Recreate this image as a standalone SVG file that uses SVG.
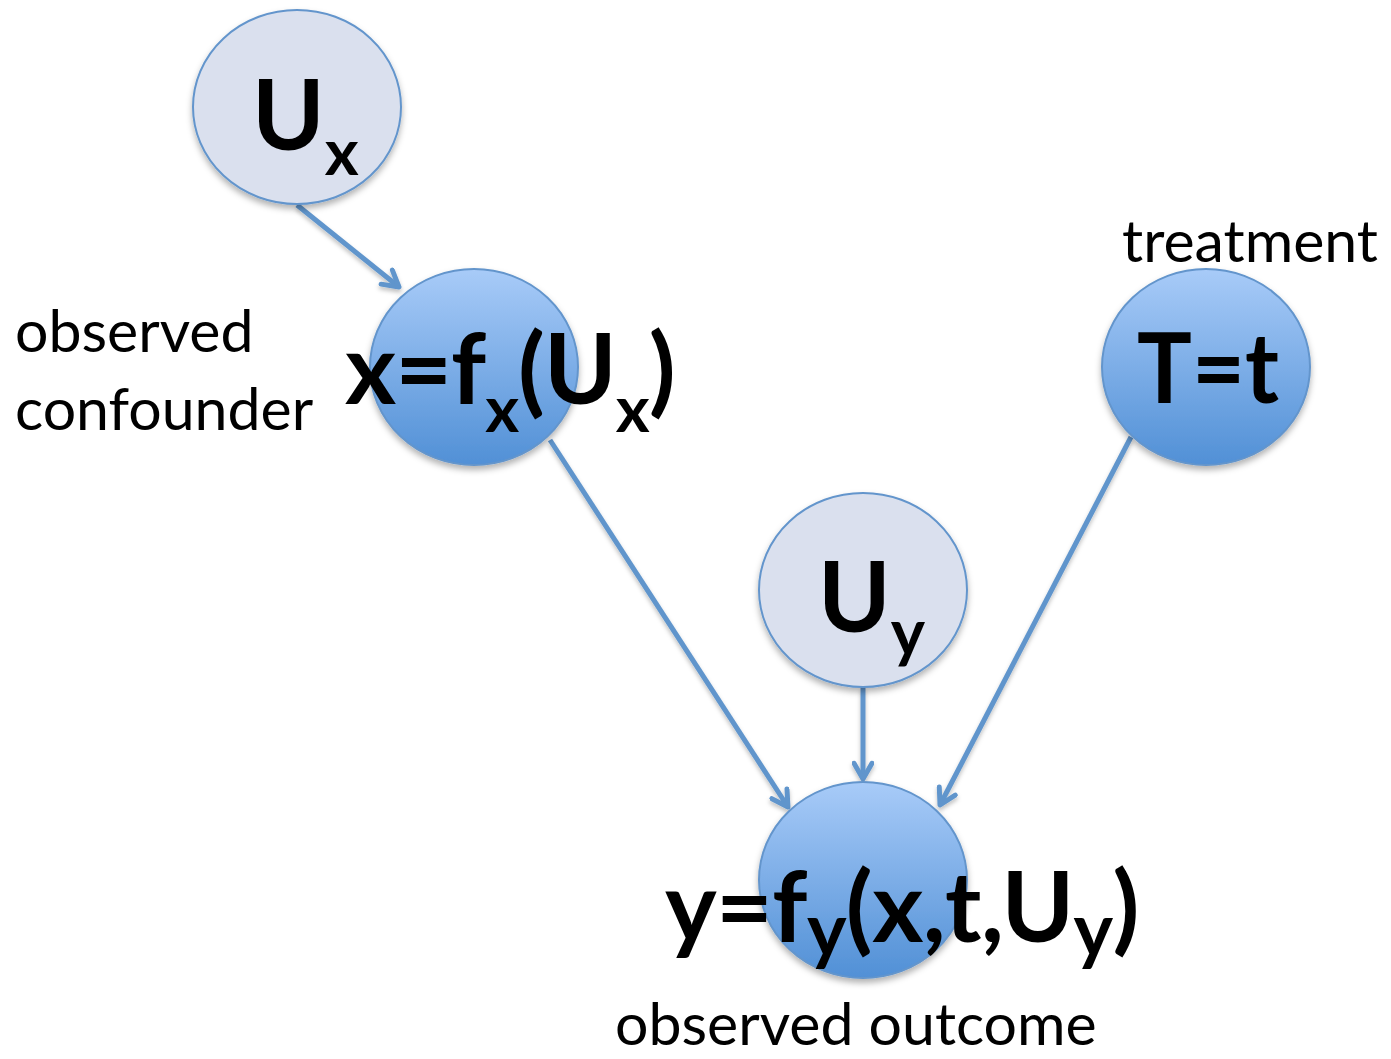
<svg xmlns="http://www.w3.org/2000/svg" width="1391" height="1059" viewBox="0 0 1391 1059">
<style>
.lbl{font-family:Lato,"Open Sans","Liberation Sans",sans-serif;font-size:59px;fill:#000}
.eq{font-family:Lato,"Open Sans","Liberation Sans",sans-serif;font-weight:bold;font-size:98px;fill:#000}
.pale{fill:#dae0ee;stroke:#6395cc;stroke-width:2}
.blue{fill:url(#bg);stroke:#6395cc;stroke-width:2}
.edge{stroke:#6095cc;stroke-width:5;fill:none;marker-end:url(#ah)}
</style>
<defs>
<linearGradient id="bg" x1="0" y1="0" x2="0" y2="1">
<stop offset="0" stop-color="#a8cbf8"/>
<stop offset="1" stop-color="#5190d6"/>
</linearGradient>
<filter id="sh" x="-20%" y="-20%" width="140%" height="150%">
<feDropShadow dx="0" dy="4" stdDeviation="3" flood-color="#000" flood-opacity="0.3"/>
</filter>
<filter id="lsh" x="-10%" y="-10%" width="120%" height="120%">
<feDropShadow dx="0" dy="3" stdDeviation="2" flood-color="#000" flood-opacity="0.25"/>
</filter>
<marker id="ah" viewBox="0 0 10 10" refX="8.5" refY="5" markerWidth="4.5" markerHeight="4.5" markerUnits="strokeWidth" orient="auto">
<path d="M1.5,1 L8.5,5 L1.5,9" fill="none" stroke="#6095cc" stroke-width="2.2" stroke-linecap="round" stroke-linejoin="round"/>
</marker>
</defs>
<g id="connectors" filter="url(#lsh)">
<line class="edge" x1="297" y1="205" x2="399" y2="287"/>
<line class="edge" x1="550" y1="440" x2="788" y2="807"/>
<line class="edge" x1="863" y1="687" x2="863" y2="779"/>
<line class="edge" x1="1131" y1="437" x2="940" y2="805"/>
</g>
<g id="node-Ux">
<ellipse class="pale" filter="url(#sh)" cx="297" cy="107" rx="104" ry="97"/>
<text class="eq" x="252" y="150">U<tspan dy="25" font-size="65">x</tspan></text>
</g>
<g id="node-x">
<ellipse class="blue" filter="url(#sh)" cx="474" cy="367" rx="104" ry="98"/>
<text class="eq" x="345" y="404" letter-spacing="-1">x=f<tspan dy="28" font-size="65">x</tspan><tspan dy="-28">(U</tspan><tspan dy="28" font-size="65">x</tspan><tspan dy="-28">)</tspan></text>
</g>
<g id="node-T">
<ellipse class="blue" filter="url(#sh)" cx="1206" cy="367" rx="104" ry="98"/>
<text class="eq" x="1137" y="403" textLength="142" lengthAdjust="spacingAndGlyphs">T=t</text>
</g>
<g id="node-Uy">
<ellipse class="pale" filter="url(#sh)" cx="863" cy="590" rx="104" ry="97"/>
<text class="eq" x="818" y="632">U<tspan dy="23" font-size="65">y</tspan></text>
</g>
<g id="node-y">
<ellipse class="blue" filter="url(#sh)" cx="863" cy="880" rx="104" ry="98"/>
<text class="eq" x="665" y="942" font-size="114" letter-spacing="-0.6">y=f<tspan dy="14" font-size="75">y</tspan><tspan dy="-14">(x,t,U</tspan><tspan dy="14" font-size="75">y</tspan><tspan dy="-14">)</tspan></text>
</g>
<g id="labels">
<text class="lbl" x="15" y="352">observed</text>
<text class="lbl" x="15" y="430">confounder</text>
<text class="lbl" x="1122" y="262">treatment</text>
<text class="lbl" x="615" y="1045">observed outcome</text>
</g>
</svg>
